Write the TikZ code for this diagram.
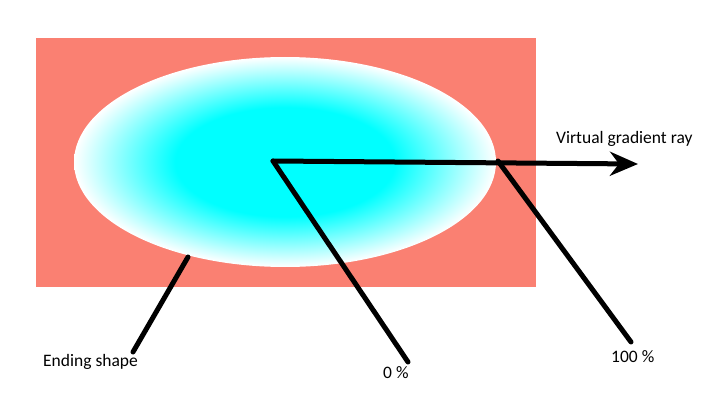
\documentclass[tikz,border=0pt]{standalone}
\usepackage{fontspec}
\setmainfont{Carlito}
\usetikzlibrary{arrows.meta}
\definecolor{salmonbg}{HTML}{FA8072}
\pgfdeclareradialshading{ellgrad}{\pgfpoint{0bp}{0bp}}{color(0bp)=(cyan); color(13bp)=(cyan); color(25bp)=(white); color(50bp)=(white)}
\tikzset{
  pointer/.style={line width=5pt, line cap=round},
  lbl/.style={font=\fontsize{17.5}{20}\selectfont, text=black, inner sep=0pt}
}
\begin{document}
\begin{tikzpicture}[x=1pt,y=-1pt]
\useasboundingbox (0,0) rectangle (710,404);
\fill[salmonbg] (36,38) rectangle (536,287);
\shade[shading=ellgrad] (285,162) ellipse [x radius=211, y radius=105];
\coordinate (c) at (273,161);
\coordinate (tip) at (638,164);
\coordinate (edge) at (498,161);
\coordinate (shp) at (188,257);
\coordinate (e0) at (408,362);
\coordinate (e100) at (631,342);
\coordinate (eshape) at (133,352);
\node[lbl, anchor=west] (ray) at (556,139) {Virtual gradient ray};
\node[lbl, anchor=west] (end) at (43,362) {Ending shape};
\node[lbl, anchor=west] (zero) at (383,373) {0 \%};
\node[lbl, anchor=west] (hund) at (611,357) {100 \%};
\draw[pointer, -{Stealth[length=28pt, width=24pt, inset=9pt]}] (c) -- (tip);
\draw[pointer] (c) -- (e0);
\draw[pointer] (edge) -- (e100);
\draw[pointer] (shp) -- (eshape);
\end{tikzpicture}
\end{document}
